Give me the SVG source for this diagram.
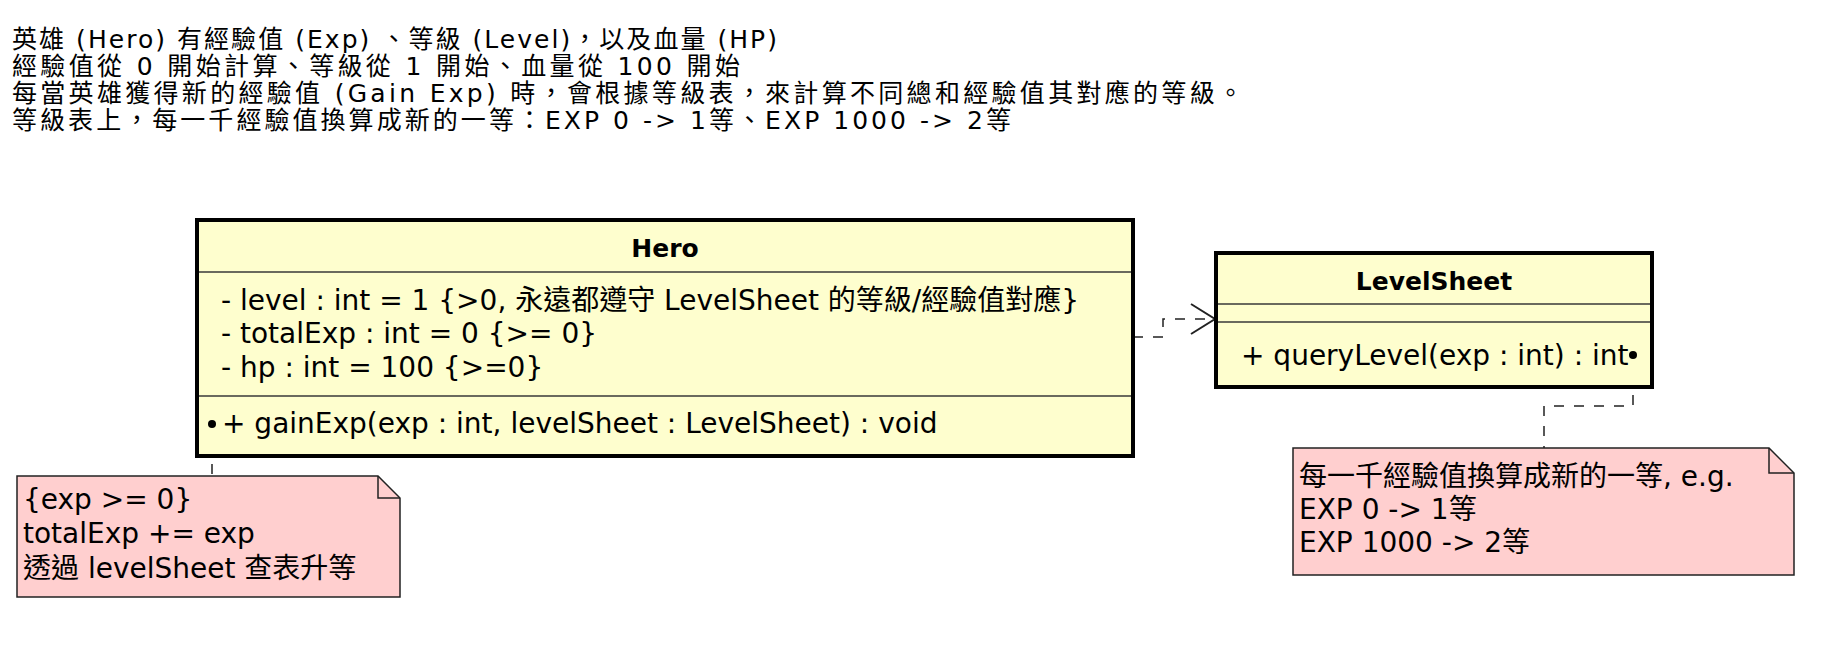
<svg xmlns="http://www.w3.org/2000/svg" width="1847" height="649" viewBox="0 0 1847 649">
<style>
  text { font-family: "DejaVu Sans", "Noto Sans CJK TC", sans-serif; font-size: 28px; fill: #000; }
  .hdr { font-size: 25px; }
  .title { font-weight: bold; font-size: 25px; text-anchor: middle; }
  .cls { fill: #FEFECE; stroke: #000; stroke-width: 4; }
  .sep { stroke: #383838; stroke-width: 1.5; }
  .note { fill: #FFCFCF; stroke: #222; stroke-width: 1.5; }
  .fold { fill: none; stroke: #222; stroke-width: 1.5; }
  .dash { fill: none; stroke: #222; stroke-width: 1.5; stroke-dasharray: 10 10; }
  .head { fill: none; stroke: #222; stroke-width: 2; }
</style>
<rect width="1847" height="649" fill="#fff"/>
<g id="header">
  <text class="hdr" x="12" y="48" textLength="765" lengthAdjust="spacing">英雄 (Hero) 有經驗值 (Exp) 、等級 (Level)，以及血量 (HP)</text>
  <text class="hdr" x="12" y="75" textLength="728" lengthAdjust="spacing">經驗值從 0 開始計算、等級從 1 開始、血量從 100 開始</text>
  <text class="hdr" x="12" y="102" textLength="1231" lengthAdjust="spacing">每當英雄獲得新的經驗值 (Gain Exp) 時，會根據等級表，來計算不同總和經驗值其對應的等級。</text>
  <text class="hdr" x="12" y="129" textLength="999" lengthAdjust="spacing">等級表上，每一千經驗值換算成新的一等：EXP 0 -&gt; 1等、EXP 1000 -&gt; 2等</text>
</g>
<g id="connectors">
  <polyline class="dash" points="1133,337 1163,337 1163,319 1214,319"/>
  <polyline class="head" points="1191,304 1215,319 1191,334"/>
  <line class="dash" x1="212" y1="424" x2="212" y2="476"/>
  <polyline class="dash" points="1633,355 1633,406 1544,406 1544,448"/>
</g>
<g id="Hero">
  <rect class="cls" x="197" y="220" width="936" height="236"/>
  <line class="sep" x1="199" y1="272" x2="1131" y2="272"/>
  <line class="sep" x1="199" y1="396" x2="1131" y2="396"/>
  <text class="title" x="665" y="257">Hero</text>
  <text x="221" y="310">- level : int = 1 {&gt;0, 永遠都遵守 LevelSheet 的等級/經驗值對應}</text>
  <text x="221" y="343">- totalExp : int = 0 {&gt;= 0}</text>
  <text x="221" y="377">- hp : int = 100 {&gt;=0}</text>
  <text x="222" y="433">+ gainExp(exp : int, levelSheet : LevelSheet) : void</text>
  <circle cx="212" cy="424" r="4" fill="#000"/>
</g>
<g id="LevelSheet">
  <rect class="cls" x="1216" y="253" width="436" height="134"/>
  <line class="sep" x1="1218" y1="304" x2="1650" y2="304"/>
  <line class="sep" x1="1218" y1="322" x2="1650" y2="322"/>
  <text class="title" x="1434" y="290">LevelSheet</text>
  <text x="1241" y="365">+ queryLevel(exp : int) : int</text>
  <circle cx="1633" cy="355" r="4" fill="#000"/>
</g>
<g id="note-gainExp">
  <path class="note" d="M17,476 H378 L400,498 V597 H17 Z"/>
  <path class="fold" d="M378,476 V498 H400"/>
  <text x="23" y="509">{exp &gt;= 0}</text>
  <text x="23" y="543">totalExp += exp</text>
  <text x="23" y="578">透過 levelSheet 查表升等</text>
</g>
<g id="note-queryLevel">
  <path class="note" d="M1293,448 H1769 L1794,473 V575 H1293 Z"/>
  <path class="fold" d="M1769,448 V473 H1794"/>
  <text x="1299" y="486">每一千經驗值換算成新的一等, e.g.</text>
  <text x="1299" y="519">EXP 0 -&gt; 1等</text>
  <text x="1299" y="552">EXP 1000 -&gt; 2等</text>
</g>
</svg>
